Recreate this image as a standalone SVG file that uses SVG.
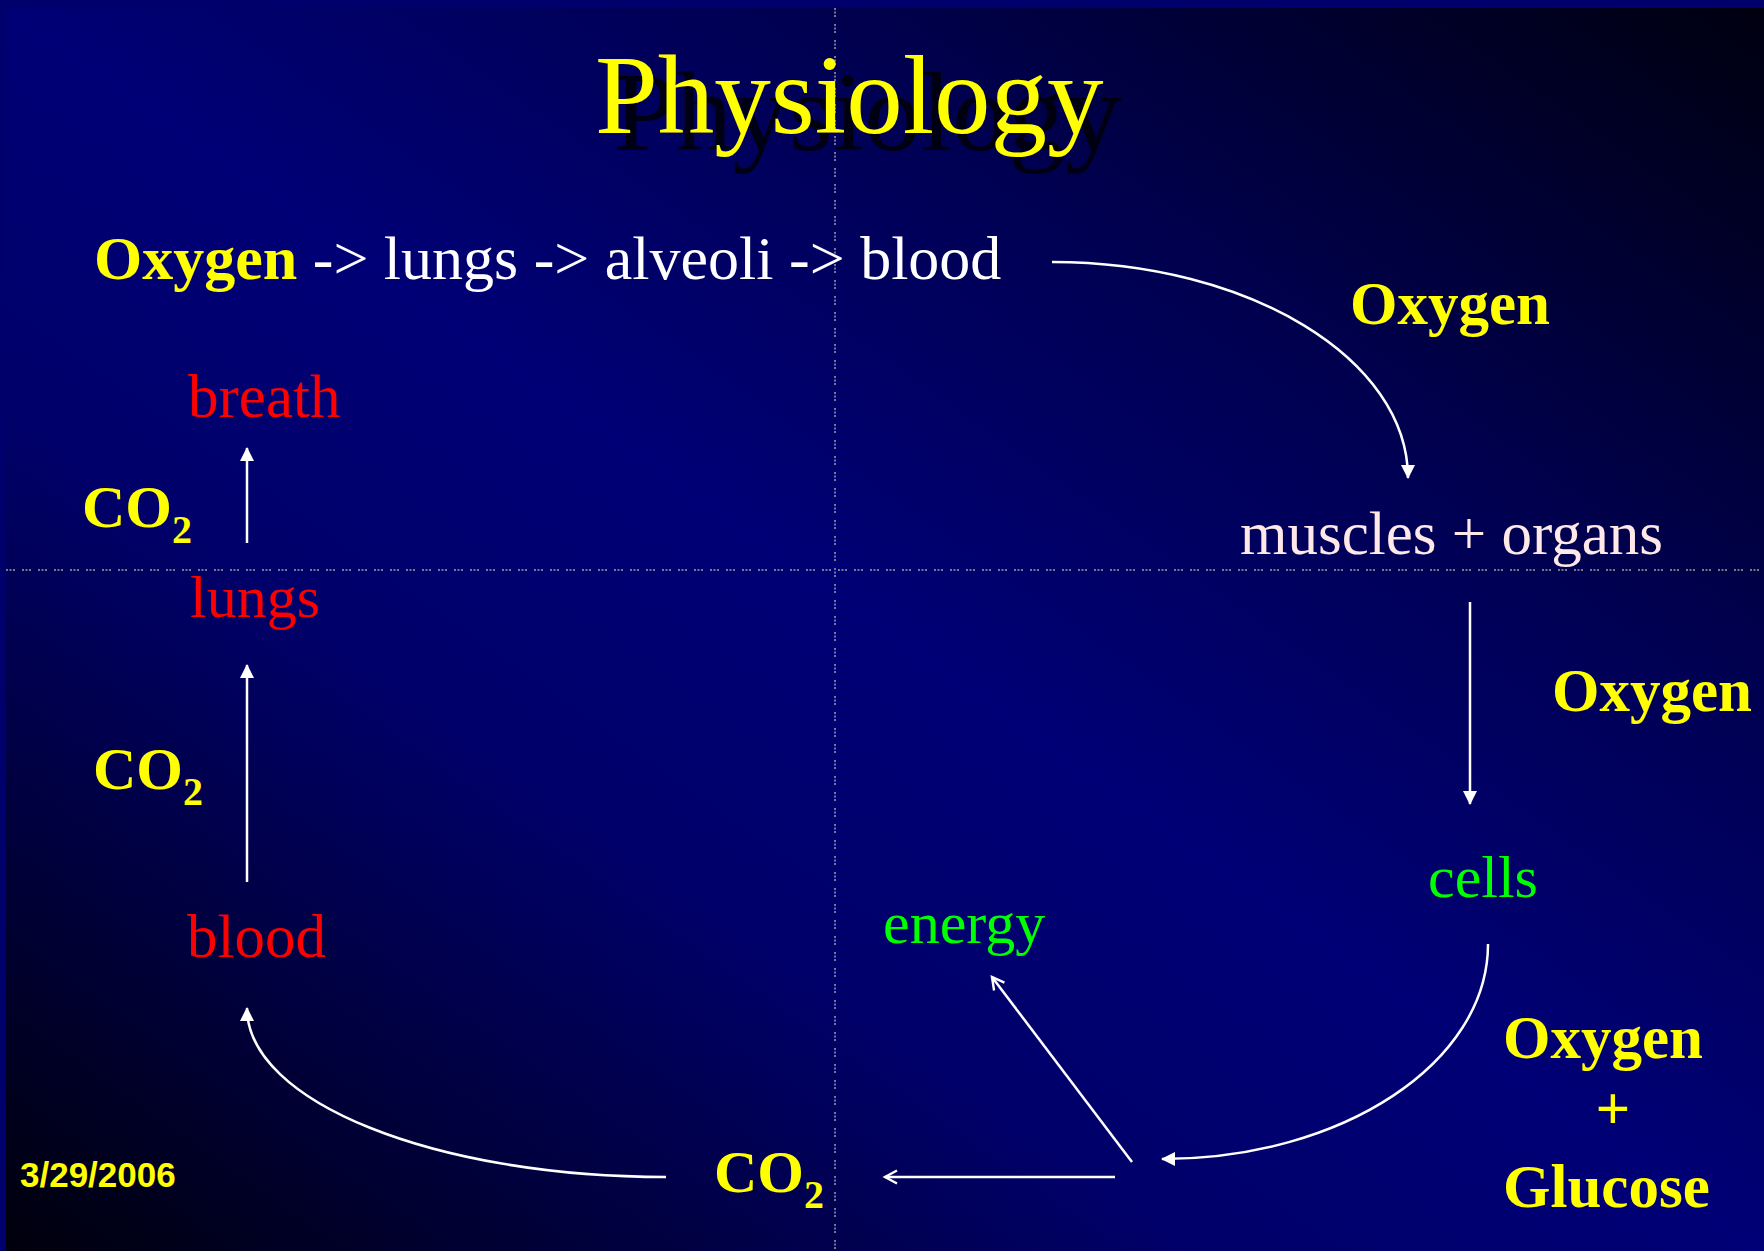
<svg xmlns="http://www.w3.org/2000/svg" width="1764" height="1251" viewBox="0 0 1764 1251">
  <defs>
    <linearGradient id="bg" x1="1" y1="0" x2="0" y2="1">
      <stop offset="0" stop-color="#000010"/>
      <stop offset="0.28" stop-color="#000052"/>
      <stop offset="0.5" stop-color="#000076"/>
      <stop offset="0.66" stop-color="#00006a"/>
      <stop offset="0.85" stop-color="#000036"/>
      <stop offset="1" stop-color="#00000c"/>
    </linearGradient>
    <marker id="tri" markerUnits="userSpaceOnUse" markerWidth="16" markerHeight="16" refX="13" refY="7" orient="auto" viewBox="0 0 16 14">
      <path d="M0,0 L14,7 L0,14 z" fill="#ffffff"/>
    </marker>
    <marker id="open" markerUnits="userSpaceOnUse" markerWidth="16" markerHeight="16" refX="13" refY="7" orient="auto" viewBox="0 0 16 14">
      <path d="M1,0.5 L13,7 L1,13.5" fill="none" stroke="#ffffff" stroke-width="2.4"/>
    </marker>
  </defs>
  <style>
    .serif { font-family: "Liberation Serif", "Times New Roman", serif; }
    .b { font-weight: bold; }
    .yel { fill: #ffff00; }
    .red { fill: #ff0000; }
    .grn { fill: #00ff00; }
    .wht { fill: #ffffff; }
    .pink { fill: #ffe8e8; }
    .guide { stroke: #c8c8b4; stroke-width: 1.5; stroke-dasharray: 2 1.5 2 1.5 2 7; fill: none; opacity: 0.8; }
    .arr { stroke: #ffffff; stroke-width: 2.5; fill: none; }
  </style>

  <rect x="0" y="0" width="1764" height="1251" fill="#00006c"/>
  <rect x="6" y="8" width="1758" height="1243" fill="url(#bg)"/>

  <g id="guides">
    <line class="guide" x1="835" y1="8" x2="835" y2="1251"/>
    <line class="guide" x1="6" y1="570" x2="1764" y2="570"/>
  </g>

  <g id="title">
    <text class="serif" x="613" y="150" font-size="113" fill="#000008" opacity="0.85">Physiology</text>
    <text class="serif yel" x="595" y="133" font-size="113">Physiology</text>
  </g>

  <g id="node-top-line">
    <text class="serif" x="94" y="279" font-size="62"><tspan class="b yel">Oxygen</tspan><tspan class="wht"> -&gt; lungs -&gt; alveoli -&gt; blood</tspan></text>
  </g>

  <g id="label-oxygen-1">
    <text class="serif b yel" x="1350" y="324" font-size="61">Oxygen</text>
  </g>

  <g id="node-muscles-organs">
    <text class="serif pink" x="1240" y="554" font-size="61">muscles + organs</text>
  </g>

  <g id="label-oxygen-2">
    <text class="serif b yel" x="1552" y="711" font-size="61">Oxygen</text>
  </g>

  <g id="node-cells">
    <text class="serif grn" x="1428" y="897" font-size="60">cells</text>
  </g>

  <g id="label-oxygen-glucose">
    <text class="serif b yel" x="1503" y="1058" font-size="61">Oxygen</text>
    <text class="serif b yel" x="1613" y="1129" font-size="61" text-anchor="middle">+</text>
    <text class="serif b yel" x="1503" y="1207" font-size="61">Glucose</text>
  </g>

  <g id="node-energy">
    <text class="serif grn" x="883" y="943" font-size="60">energy</text>
  </g>

  <g id="node-co2-bottom">
    <text class="serif b yel" x="714" y="1192" font-size="60">CO<tspan font-size="40" dy="16">2</tspan></text>
  </g>

  <g id="node-blood">
    <text class="serif red" x="187" y="957" font-size="61">blood</text>
  </g>

  <g id="label-co2-2">
    <text class="serif b yel" x="93" y="789" font-size="60">CO<tspan font-size="40" dy="16">2</tspan></text>
  </g>

  <g id="node-lungs">
    <text class="serif red" x="190" y="617" font-size="60">lungs</text>
  </g>

  <g id="label-co2-1">
    <text class="serif b yel" x="82" y="527" font-size="60">CO<tspan font-size="40" dy="16">2</tspan></text>
  </g>

  <g id="node-breath">
    <text class="serif red" x="188" y="417" font-size="61">breath</text>
  </g>

  <g id="date">
    <text x="20" y="1187" font-family="'Liberation Sans', Arial, sans-serif" font-weight="bold" font-size="35" fill="#ffff00">3/29/2006</text>
  </g>

  <g id="connectors">
    <path class="arr" d="M1052,262 C1249,262 1408,359 1408,478" marker-end="url(#tri)"/>
    <line class="arr" x1="1470" y1="602" x2="1470" y2="804" marker-end="url(#tri)"/>
    <path class="arr" d="M1488,944 C1488,1063 1342,1159 1162,1159" marker-end="url(#tri)"/>
    <line class="arr" x1="1132" y1="1162" x2="992" y2="977" marker-end="url(#open)"/>
    <line class="arr" x1="1115" y1="1177" x2="885" y2="1177" marker-end="url(#open)"/>
    <path class="arr" d="M666,1177 C435,1177 247,1102 247,1008" marker-end="url(#tri)"/>
    <line class="arr" x1="247" y1="882" x2="247" y2="665" marker-end="url(#tri)"/>
    <line class="arr" x1="247" y1="543" x2="247" y2="448" marker-end="url(#tri)"/>
  </g>
</svg>
